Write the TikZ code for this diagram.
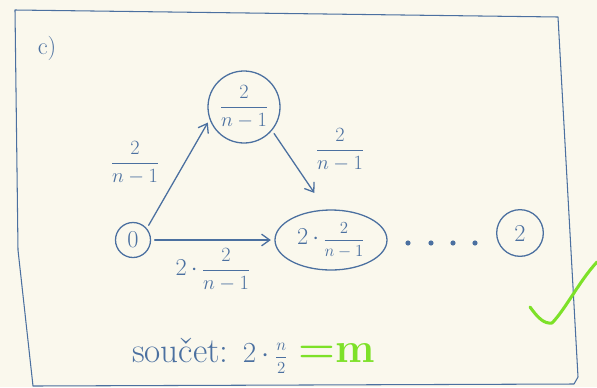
\documentclass[tikz,border=0pt]{standalone}
\usepackage{amsmath}
\usetikzlibrary{positioning,shapes.geometric,arrows.meta}
\definecolor{ink}{RGB}{75,112,160}
\definecolor{paper}{RGB}{250,248,237}
\definecolor{tick}{RGB}{125,225,40}
\tikzset{
  state/.style={draw, circle, inner sep=1pt, line width=1.1pt},
  weight/.style={font=\LARGE},
  edge/.style={line width=1.1pt, -{Straight Barb[length=7pt,width=10pt]}, shorten >=3pt, shorten <=3pt},
}
\begin{document}
\begin{tikzpicture}[x=0.03cm, y=-0.03cm, color=ink, line cap=round, line join=round]
  \fill[paper] (0,0) rectangle (597,387);
  \useasboundingbox (0,0) rectangle (597,387);
  % frame
  \draw[line width=0.9pt] (15,10) -- (18,250) -- (33,386) -- (574,384) -- (578,377) -- (558,17) -- cycle;
  \node[font=\huge] (part) at (47,48) {c)};
  % states
  \node[state, font=\LARGE, minimum size=2.16cm] (nA) at (244,107) {$\displaystyle\frac{2}{n-1}$};
  \node[state, font=\huge, minimum size=1.05cm] (n0) at (133,240) {0};
  \node[state, ellipse, minimum width=3.36cm, minimum height=1.8cm, inner sep=0pt] (nB) at (331,240)
    {{\huge$2\,\cdot\,$}{\Large$\dfrac{2}{n-1}$}};
  \node[state, font=\huge, minimum size=1.4cm] (n2) at (520,233) {2};
  \foreach \x in {408,431,453,475} \fill (\x,243) circle (2.2pt);
  % transitions
  \draw[edge] (n0.40) -- (nA.200);
  \draw[edge, shorten >=0.6cm] (nA.-40) -- (nB.100);
  \draw[edge] (n0.east) -- (nB.west);
  \node[weight] (wA) at (135,163) {$\displaystyle\frac{2}{n-1}$};
  \node[weight] (wB) at (340,150) {$\displaystyle\frac{2}{n-1}$};
  \node[weight] (wC) at (213,270) {{\huge$2\,\cdot\,$}{\LARGE$\dfrac{2}{n-1}$}};
  % sum
  \node[anchor=base west, font=\fontsize{30}{34}\selectfont] (sum) at (128,362)
    {sou\v{c}et: $2\,\cdot$\,{\fontsize{15}{17}\selectfont$\dfrac{n}{2}$}
     {\color{tick}\bfseries\fontsize{36}{38}\selectfont =m}};
  \draw[tick, line width=2.6pt] (530,307) .. controls (538,318) and (544,324) .. (552,323)
    .. controls (565,310) and (580,280) .. (597,262);
\end{tikzpicture}
\end{document}
